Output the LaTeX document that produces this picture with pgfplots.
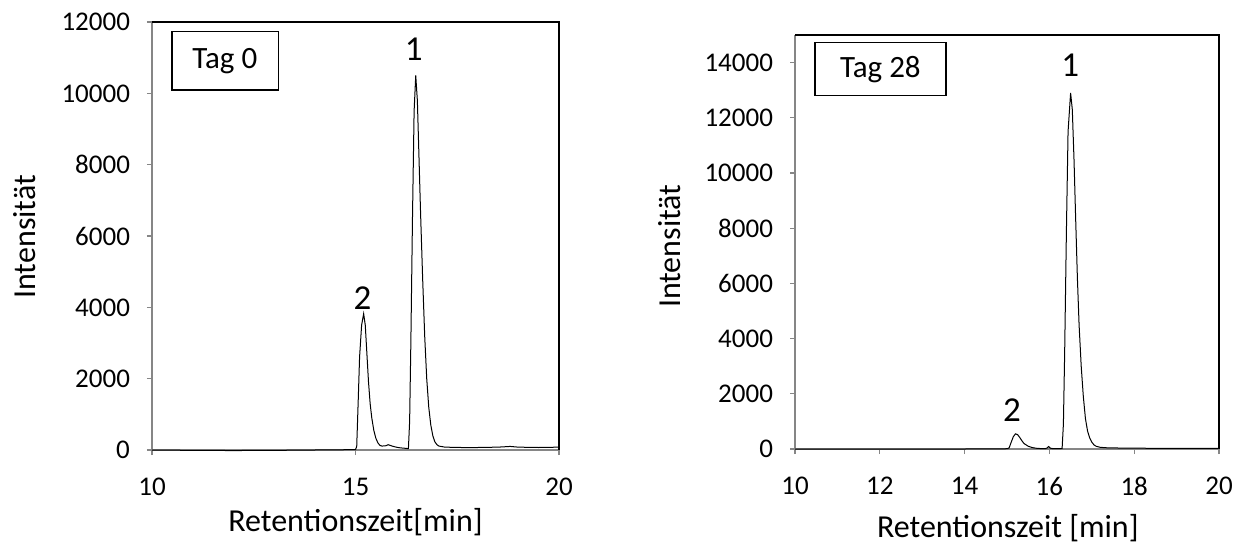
\documentclass[border=0pt]{standalone}
\usepackage{pgfplots}
\pgfplotsset{compat=1.18}
\usepackage{fontspec}
\setmainfont{Carlito}

\definecolor{axgray}{RGB}{134,134,134}

% peak 1 and 2, day 0
\pgfplotstableread{
x y
10.0 0
11.0 -10
12.0 -15
13.0 -10
14.0 0
14.5 5
15.0 10
15.03 100
15.07 1500
15.1 2600
15.15 3500
15.2 3820
15.24 3500
15.28 2700
15.32 1900
15.36 1300
15.4 900
15.45 550
15.5 330
15.55 200
15.6 130
15.65 110
15.75 120
15.8 150
15.85 130
15.9 110
16.0 80
16.1 60
16.2 50
16.28 40
16.3 40
16.33 800
16.36 3000
16.4 6500
16.44 9500
16.48 10500
16.52 9800
16.56 8200
16.6 6600
16.65 4800
16.7 3200
16.75 2000
16.8 1200
16.85 700
16.9 400
16.95 230
17.0 150
17.05 110
17.2 80
17.6 70
18.0 70
18.5 80
18.8 100
19.0 80
19.5 70
20.0 80
}\tagnull

% day 28
\pgfplotstableread{
x y
10.0 0
11.0 -5
12.0 -5
13.0 0
14.0 0
14.8 5
15.0 10
15.05 40
15.1 250
15.15 450
15.2 550
15.25 520
15.3 420
15.35 300
15.4 200
15.5 100
15.6 50
15.7 25
15.8 15
15.9 10
15.95 40
15.98 90
16.02 30
16.1 10
16.2 10
16.3 20
16.33 900
16.36 3500
16.4 7800
16.44 11500
16.5 12900
16.54 12300
16.58 10500
16.62 8300
16.66 6200
16.7 4500
16.75 3000
16.8 1900
16.85 1100
16.9 650
16.95 400
17.0 250
17.05 150
17.1 100
17.2 60
17.4 40
18.0 30
19.0 20
20.0 25
}\tagachtundzwanzig

\pgfplotsset{
  chrom/.style={
    scale only axis,
    axis x line*=bottom,
    axis y line*=left,
    axis line style={axgray, line width=0.6pt},
    tick style={axgray, line width=0.6pt},
    tick align=outside,
    major tick length=2.5pt,
    xmin=10, xmax=20,
    ymin=0,
    clip=false,
    scaled ticks=false,
    tick label style={font=\fontsize{13.5}{15}\selectfont},
    label style={font=\fontsize{16}{18}\selectfont},
    /pgf/number format/assume math mode=true,
    /pgf/number format/1000 sep={},
    xticklabel style={yshift=-8pt},
    yticklabel style={xshift=-5pt},
  },
}

\begin{document}
\begin{tikzpicture}
\useasboundingbox (0,0) rectangle (623.5pt,273.5pt);

\begin{axis}[chrom,
  at={(76pt,48.5pt)}, anchor=south west,
  width=203.5pt, height=214pt,
  ymax=12000,
  xtick={10,15,20},
  ytick={0,2000,4000,6000,8000,10000,12000},
  xlabel={Retentionszeit[min]},
  ylabel={Intensität},
  xlabel style={at={(axis description cs:0.5,-0.168)}, anchor=center},
  ylabel style={at={(axis description cs:-0.312,0.498)}, anchor=center},
]
\addplot[black, line width=0.5pt] table {\tagnull};
\draw[black, line width=0.6pt] (rel axis cs:0,1) -- (rel axis cs:1,1) -- (rel axis cs:1,0);
\draw[black, line width=0.6pt] (rel axis cs:0.049,0.841) rectangle (rel axis cs:0.31,0.977);
\node[font=\fontsize{15.5}{18}\selectfont] at (rel axis cs:0.179,0.909) {Tag 0};
\node[font=\fontsize{17.5}{20}\selectfont] at (axis cs:16.43,11250) {1};
\node[font=\fontsize{17.5}{20}\selectfont] at (axis cs:15.17,4250) {2};
\end{axis}

\begin{axis}[chrom,
  at={(397.5pt,49pt)}, anchor=south west,
  width=212pt, height=207pt,
  ymax=15000,
  xtick={10,12,14,16,18,20},
  ytick={0,2000,4000,6000,8000,10000,12000,14000},
  xlabel={Retentionszeit [min]},
  ylabel={Intensität},
  xlabel style={at={(axis description cs:0.502,-0.19)}, anchor=center},
  ylabel style={at={(axis description cs:-0.295,0.49)}, anchor=center},
]
\addplot[black, line width=0.5pt] table {\tagachtundzwanzig};
\draw[black, line width=0.6pt] (rel axis cs:0,1) -- (rel axis cs:1,1) -- (rel axis cs:1,0);
\draw[black, line width=0.6pt] (rel axis cs:0.047,0.853) rectangle (rel axis cs:0.356,0.981);
\node[font=\fontsize{15.5}{18}\selectfont] at (rel axis cs:0.2015,0.917) {Tag 28};
\node[font=\fontsize{17.5}{20}\selectfont] at (axis cs:16.49,13890) {1};
\node[font=\fontsize{17.5}{20}\selectfont] at (axis cs:15.12,1420) {2};
\end{axis}
\end{tikzpicture}
\end{document}
